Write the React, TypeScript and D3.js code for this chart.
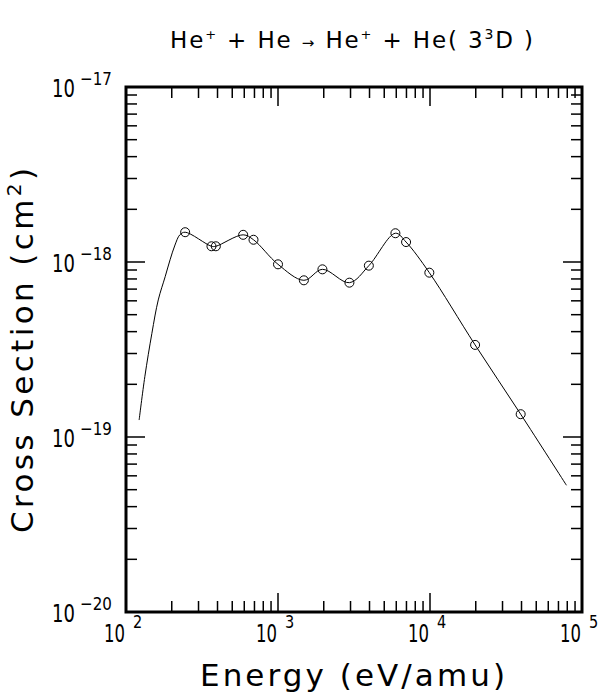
import React from "react";
import * as d3 from "d3";

// Measured data points (circles)
const energy = [245, 365, 390, 590, 690, 1000, 1480, 1960, 2950, 3960, 5920, 6960, 9900, 19800, 39500];
const crossSection = [1.48e-18, 1.23e-18, 1.23e-18, 1.43e-18, 1.34e-18, 9.7e-19, 7.86e-19, 9.08e-19, 7.62e-19, 9.53e-19, 1.46e-18, 1.30e-18, 8.69e-19, 3.36e-19, 1.35e-19];

// Fitted curve
const fitEnergy = [122, 133, 148, 163, 181, 195, 210, 226, 245, 365, 390, 590, 690, 1000, 1480, 1960, 2950, 3960, 5920, 6960, 9900, 19800, 39500, 79000];
const fitCross = [1.25e-19, 2.21e-19, 3.91e-19, 6.07e-19, 8.24e-19, 1.03e-18, 1.25e-18, 1.43e-18, 1.48e-18, 1.23e-18, 1.23e-18, 1.43e-18, 1.34e-18, 9.7e-19, 7.86e-19, 9.08e-19, 7.62e-19, 9.53e-19, 1.46e-18, 1.30e-18, 8.69e-19, 3.36e-19, 1.35e-19, 5.3e-20];

const xDecades = [2, 3, 4, 5];
const yDecades = [-20, -19, -18, -17];

const FONT = "DejaVu Sans, sans-serif";

export default function App() {
  const W = 598, H = 694;
  const left = 126, right = 582, top = 87, bottom = 612;
  const x = d3.scaleLog().domain([1e2, 1e5]).range([left, right]);
  const y = d3.scaleLog().domain([1e-20, 1e-17]).range([bottom, top]);

  const xTicks: { v: number; major: boolean }[] = [];
  for (let d = 2; d < 5; d++) for (let m = 1; m <= 9; m++) xTicks.push({ v: m * Math.pow(10, d), major: m === 1 });
  xTicks.push({ v: 1e5, major: true });
  const yTicks: { v: number; major: boolean }[] = [];
  for (let d = -20; d < -17; d++) for (let m = 1; m <= 9; m++) yTicks.push({ v: m * Math.pow(10, d), major: m === 1 });
  yTicks.push({ v: 1e-17, major: true });

  const fit = fitEnergy.map((e, i) => [e, fitCross[i]] as [number, number]);
  const line = d3.line<[number, number]>().x(d => x(d[0])).y(d => y(d[1])).curve(d3.curveCatmullRom.alpha(0.5));

  const majL = 19, minL = 11;

  return (
    <svg width={W} height={H} style={{ position: "absolute", left: 0, top: 0, background: "#fff" }} fontFamily={FONT}>
      <rect x={0} y={0} width={W} height={H} fill="#fff" />
      {/* title */}
      <text x={170} y={48} fontSize={23} textLength={363} lengthAdjust="spacing" fill="#000">
        He<tspan dy={-9} fontSize={13}>+</tspan><tspan dy={9}> + He </tspan><tspan fontSize={15}>→</tspan> He<tspan dy={-9} fontSize={13}>+</tspan><tspan dy={9}> + He( 3</tspan><tspan dy={-9} fontSize={14}>3</tspan><tspan dy={9}>D )</tspan>
      </text>

      {/* ticks */}
      {xTicks.map((t, i) => (
        <g key={"xt" + i} stroke="#000" strokeWidth={1.5}>
          <line x1={x(t.v)} x2={x(t.v)} y1={bottom} y2={bottom - (t.major ? majL : minL)} />
          <line x1={x(t.v)} x2={x(t.v)} y1={top} y2={top + (t.major ? majL : minL)} />
        </g>
      ))}
      {yTicks.map((t, i) => (
        <g key={"yt" + i} stroke="#000" strokeWidth={1.5}>
          <line x1={left} x2={left + (t.major ? majL : minL)} y1={y(t.v)} y2={y(t.v)} />
          <line x1={right} x2={right - (t.major ? majL : minL)} y1={y(t.v)} y2={y(t.v)} />
        </g>
      ))}
      <rect x={left} y={top} width={right - left} height={bottom - top} fill="none" stroke="#000" strokeWidth={3} />

      {/* x tick labels */}
      {xDecades.map(d => {
        const px = x(Math.pow(10, d));
        return (
          <g key={"xl" + d} fill="#000">
            <text transform={`translate(${px - 22},642) scale(0.66,1)`} fontSize={25}>10</text>
            <text transform={`translate(${px + 7},628) scale(0.85,1)`} fontSize={17}>{d}</text>
          </g>
        );
      })}
      {/* y tick labels */}
      {yDecades.map(d => {
        const py = y(Math.pow(10, d));
        return (
          <g key={"yl" + d} fill="#000">
            <text transform={`translate(52,${py + 10}) scale(0.72,1)`} fontSize={25}>10</text>
            <text transform={`translate(80,${py - 2}) scale(0.84,1)`} fontSize={18}>{"−" + Math.abs(d)}</text>
          </g>
        );
      })}

      {/* axis labels */}
      <text x={200} y={686} fontSize={31} textLength={305} lengthAdjust="spacing" fill="#000">Energy (eV/amu)</text>
      <text transform="translate(33,533) rotate(-90)" x={0} y={0} fontSize={31} textLength={365} lengthAdjust="spacing" fill="#000">
        Cross Section (cm<tspan dy={-12} fontSize={20}>2</tspan><tspan dy={12}>)</tspan>
      </text>

      {/* curve */}
      <path d={line(fit) || ""} fill="none" stroke="#000" strokeWidth={1} />
      {/* points */}
      {energy.map((e, i) => (
        <circle key={"p" + i} cx={x(e)} cy={y(crossSection[i])} r={4.5} fill="none" stroke="#000" strokeWidth={1} />
      ))}
    </svg>
  );
}
